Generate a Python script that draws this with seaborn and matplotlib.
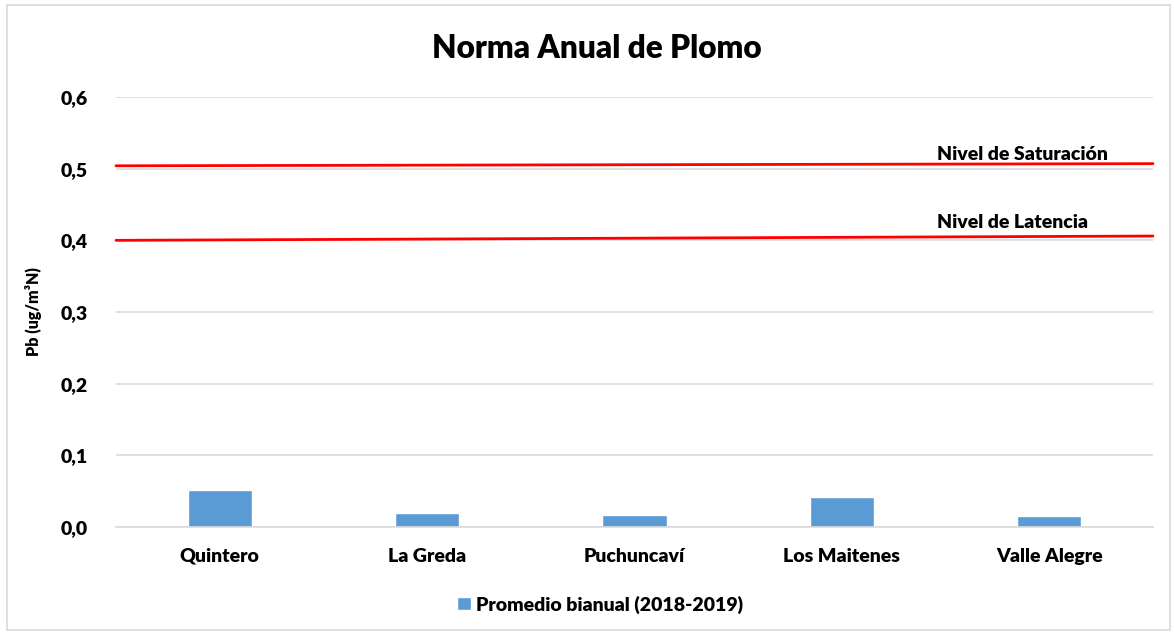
"""Norma anual de plomo: bar chart of bianual averages with two reference lines."""
import matplotlib

matplotlib.use("Agg")
import matplotlib.pyplot as plt  # noqa: E402
import pandas as pd  # noqa: E402
import seaborn as sns  # noqa: E402
from matplotlib.patches import Rectangle  # noqa: E402

stations = ["Quintero", "La Greda", "Puchuncaví", "Los Maitenes", "Valle Alegre"]
promedio = [0.051, 0.019, 0.017, 0.042, 0.015]
saturacion = [0.504, 0.507]
latencia = [0.400, 0.406]
y_ticks = [0.0, 0.1, 0.2, 0.3, 0.4, 0.5, 0.6]
serie = "Promedio bianual (2018-2019)"

sns.set_style("white")
plt.rcParams["font.family"] = ["Lato", "DejaVu Sans"]
WEIGHT = "heavy"
plt.rcParams["font.weight"] = WEIGHT
plt.rcParams["text.color"] = "black"
plt.rcParams["axes.labelcolor"] = "black"
plt.rcParams["xtick.color"] = "black"
plt.rcParams["ytick.color"] = "black"

W, H = 1174, 635
fig = plt.figure(figsize=(W / 100, H / 100), dpi=100)
fig.patches.append(Rectangle((7 / W, 5 / H), 1163 / W, 625 / H, transform=fig.transFigure,
                             fill=False, edgecolor="#d9d9d9", linewidth=1.2))
ax = fig.add_axes([116 / W, 1 - 527 / H, (1153 - 116) / W, (527 - 97) / H])

df = pd.DataFrame({"station": stations, "valor": promedio, "serie": serie})
sns.barplot(data=df, x="station", y="valor", hue="serie", palette=["#5b9bd5"],
            saturation=1, width=0.31, ax=ax, legend=True)

ax.set_xlim(-0.5, len(stations) - 0.5)
ax.set_ylim(0, 0.6)
xs = [-0.5, len(stations) - 0.5]
ax.plot(xs, saturacion, color="red", lw=2, zorder=3, clip_on=False)
ax.plot(xs, latencia, color="red", lw=2, zorder=3, clip_on=False)
ax.text(3.46, saturacion[1] + 0.005, "Nivel de Saturación", fontsize=14, fontweight=WEIGHT,
        va="baseline")
ax.text(3.46, latencia[1] + 0.011, "Nivel de Latencia", fontsize=14, fontweight=WEIGHT,
        va="baseline")

ax.set_yticks(y_ticks)
ax.set_yticklabels([f"{v:.1f}".replace(".", ",") for v in y_ticks], fontsize=14,
                   fontweight=WEIGHT)
ax.set_xticks(range(len(stations)))
ax.set_xticklabels(stations, fontsize=14, fontweight=WEIGHT)
ax.tick_params(axis="y", length=0, pad=20)
ax.tick_params(axis="x", length=0, pad=15)
ax.grid(axis="y", color="#d9d9d9", lw=1.2)
ax.set_axisbelow(True)
for side in ["top", "right", "left"]:
    ax.spines[side].set_visible(False)
ax.spines["bottom"].set_color("#d9d9d9")
ax.spines["bottom"].set_linewidth(1.2)

ax.set_xlabel("")
ax.set_ylabel("Pb (ug/m³N)", fontsize=11.5, fontweight=WEIGHT)
ax.yaxis.set_label_coords(-0.071, 0.5)
fig.text(0.508, 1 - 48 / H, "Norma Anual de Plomo", ha="center", va="center", fontsize=22.8,
         fontweight=WEIGHT)

ax.legend(loc="center", bbox_to_anchor=(0.467, -0.18), frameon=False,
          handlelength=0.7, handleheight=0.7, handletextpad=0.3,
          prop={"weight": WEIGHT, "size": 14})

fig.savefig("out.png", dpi=100)
